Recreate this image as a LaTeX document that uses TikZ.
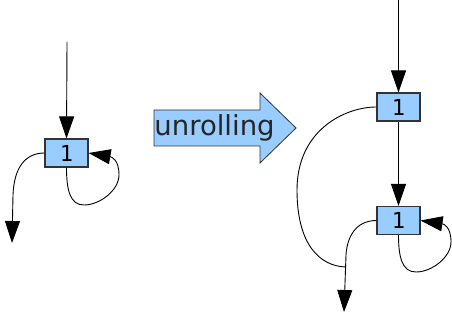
\documentclass[tikz,border=0pt]{standalone}
\usepackage{fontspec}
\newfontfamily\numfont{DejaVu Sans Mono}
\newfontfamily\labfont{DejaVu Sans}
\usetikzlibrary{arrows.meta}
\definecolor{boxblue}{HTML}{99CCFF}
\definecolor{edgegray}{HTML}{333333}
\tikzset{
  blk/.style={draw=edgegray, fill=boxblue, line width=1.1pt, minimum width=43pt, minimum height=28pt, inner sep=0pt, font=\numfont\fontsize{22}{22}\selectfont},
  conn/.style={line width=0.9pt, draw=black},
  arr/.style={conn, -{Triangle[length=22pt,width=15pt]}},
}
\begin{document}
\begin{tikzpicture}[x=1pt,y=-1pt]
\useasboundingbox (0,0) rectangle (452,320);
% left graph
\node[blk] (a) at (66.5,153) {1};
\coordinate (ain) at (67,42);
\coordinate (aout) at (12,243);
\draw[arr] (ain) -- (a.north);
\draw[arr] (a.south) .. controls (66.5,190) and (70,205) .. (84,205)
  .. controls (100,205) and (119,190) .. (119,175)
  .. controls (119,160) and (112,157) .. (a.east);
\draw[arr] (a.west) .. controls (25,153) and (14,168) .. (13,195) -- (aout);
% unrolling arrow
\draw[draw=edgegray, fill=boxblue, line width=0.8pt, line join=miter]
  (154,110) -- (260,110) -- (260,93) -- (296,128) -- (260,163) -- (260,146) -- (154,146) -- cycle;
\node[font=\labfont\fontsize{27.5}{28}\selectfont, inner sep=0pt, text=black!85] (lab) at (214.5,128) {unrolling};
% right graph
\node[blk] (b) at (398.5,107) {1};
\node[blk] (c) at (398.5,220.5) {1};
\coordinate (bin) at (398.5,0);
\coordinate (m) at (345.5,267);
\coordinate (cout) at (344,312);
\draw[arr] (bin) -- (b.north);
\draw[arr] (b.south) -- (c.north);
\draw[conn] (b.west) .. controls (345,107) and (297,130) .. (297,190)
  .. controls (297,245) and (320,266) .. (m);
\draw[arr] (c.west) .. controls (355,220.5) and (347,238) .. (346,255) -- (cout);
\draw[arr] (c.south) .. controls (398.5,257) and (402,272) .. (416,272)
  .. controls (432,272) and (451,257) .. (451,242)
  .. controls (451,227) and (444,224) .. (c.east);
\end{tikzpicture}
\end{document}
